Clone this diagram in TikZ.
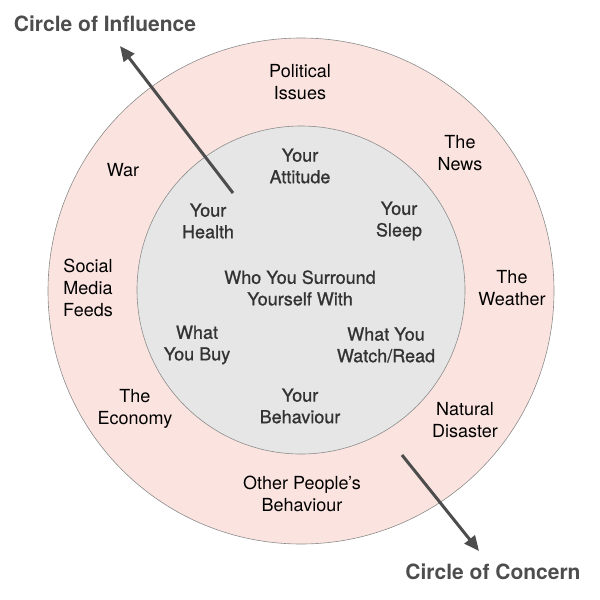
\documentclass[tikz,border=0pt]{standalone}
\usepackage{fontspec}
\setmainfont{TeX Gyre Heros}
\newfontfamily\mediumfont[FakeBold=0.9]{TeX Gyre Heros}
\usetikzlibrary{arrows.meta}
\definecolor{concernpink}{HTML}{FBE4DF}
\definecolor{influencegray}{HTML}{E6E6E6}
\definecolor{rimgray}{HTML}{8C8C8C}
\definecolor{arrowgray}{HTML}{4D4D4D}
\definecolor{innertext}{HTML}{333333}
\tikzset{
  outerlabel/.style={align=center,font=\fontsize{18}{21.6}\selectfont,text=black,inner sep=0pt},
  innerlabel/.style={align=center,font=\fontsize{18}{21.6}\mediumfont,text=innertext,inner sep=0pt},
  title/.style={font=\fontsize{21}{25}\selectfont\bfseries,text=arrowgray,inner sep=0pt},
  bigarrow/.style={draw=arrowgray,line width=3pt,-{Triangle[length=15pt,width=13pt]}}
}
\begin{document}
\begin{tikzpicture}[x=1pt,y=-1pt]
\useasboundingbox (0,0) rectangle (600,600);
% ---------- circles ----------
\draw[rimgray,line width=0.6pt,fill=concernpink] (301,291) circle[radius=253pt];
\draw[rimgray,line width=0.6pt,fill=influencegray] (301,290) circle[radius=164pt];
% ---------- outer ring: circle of concern ----------
\node[outerlabel] (politics) at (300,82) {Political\\Issues};
\node[outerlabel] (news) at (460,153) {The\\News};
\node[outerlabel] (war) at (123,170) {War};
\node[outerlabel] (social) at (88,288) {Social\\Media\\Feeds};
\node[outerlabel] (weather) at (512,288) {The\\Weather};
\node[outerlabel] (economy) at (135,409) {The\\Economy};
\node[outerlabel] (disaster) at (465,420) {Natural\\Disaster};
\node[outerlabel] (others) at (302,494) {Other People’s\\Behaviour};
% ---------- inner disc: circle of influence ----------
\node[innerlabel] (attitude) at (300,166) {Your\\Attitude};
\node[innerlabel] (health) at (208,221) {Your\\Health};
\node[innerlabel] (sleep) at (399,221) {Your\\Sleep};
\node[innerlabel] (company) at (300,288) {Who You Surround\\Yourself With};
\node[innerlabel] (buy) at (197,345) {What\\You Buy};
\node[innerlabel] (media) at (386,345) {What You\\Watch/Read};
\node[innerlabel] (behaviour) at (300,406) {Your\\Behaviour};
% ---------- titles and arrows ----------
\node[title] (influence) at (105,24) {Circle of Influence};
\node[title] (concern) at (493,572) {Circle of Concern};
\coordinate (inflTail) at (233,193);
\coordinate (inflTip) at (120,46);
\coordinate (concTail) at (402,455);
\coordinate (concTip) at (479,551);
\draw[bigarrow] (inflTail) -- (inflTip);
\draw[bigarrow] (concTail) -- (concTip);
\end{tikzpicture}
\end{document}
